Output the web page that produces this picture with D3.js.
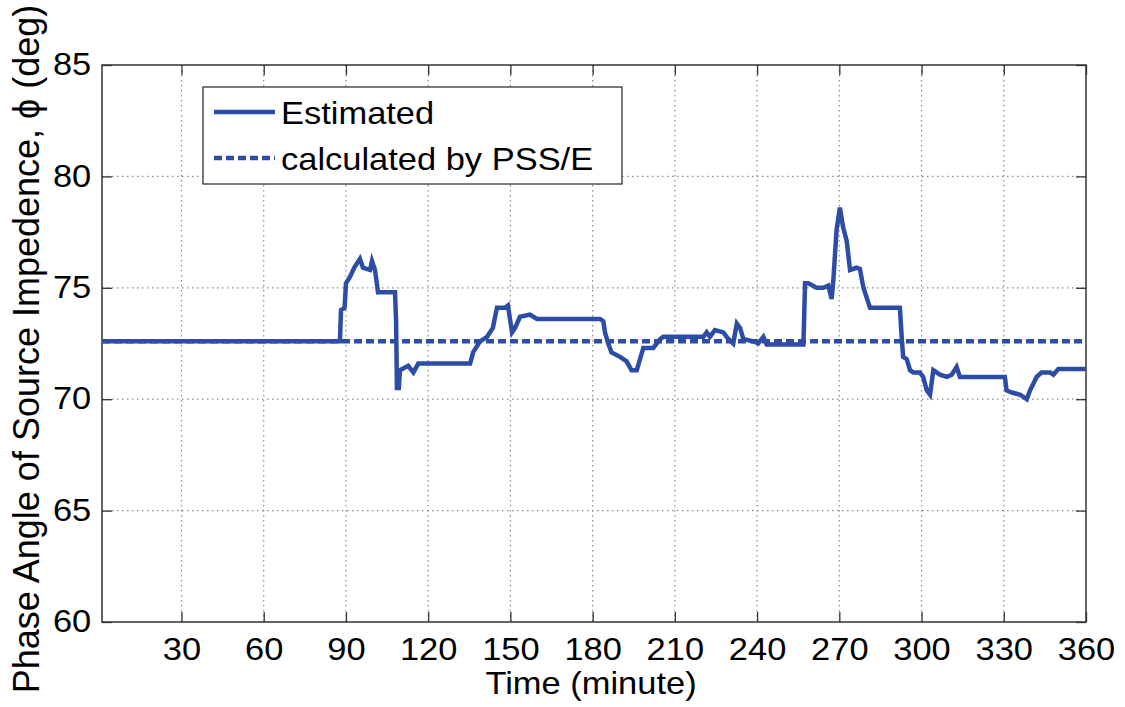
<!DOCTYPE html>
<html>
<head>
<meta charset="utf-8">
<script src="https://cdn.jsdelivr.net/npm/d3@7"></script>
<style>
  html, body { margin: 0; padding: 0; background: #fff; }
  svg { display: block; font-family: "Liberation Sans", Arial, sans-serif; }
</style>
</head>
<body>
<svg id="chart" width="1125" height="707"></svg>
<script>
// Time (minute) and estimated phase angle (deg)
const timeMin = [1, 87.8, 88.2, 89.5, 90.0, 91.5, 93.0, 95.1, 96.2, 98.8, 99.5, 100.6, 101.7, 107.9, 108.3, 108.6, 109.3,
  109.7, 112.7, 114.6, 116.4, 135.3, 136.4, 138.9, 141.5, 143.6, 145.1, 148.0, 149.1, 150.6, 151.7, 153.5, 157.1,
  159.7, 182.7, 183.9, 184.5, 185.7, 186.9, 190.0, 192.4, 194.2, 196.1, 197.3, 198.5, 202.1, 204.6, 205.8, 220.4,
  221.6, 222.8, 224.6, 227.7, 229.5, 231.3, 232.6, 233.8, 235.0, 238.6, 240.4, 242.3, 243.5, 256.9, 257.5, 258.7,
  261.7, 264.2, 266.0, 267.2, 267.8, 269.0, 270.2, 271.4, 272.7, 273.9, 276.3, 277.5, 278.8, 281.2, 292.1, 292.8,
  293.3, 294.6, 295.8, 297.0, 299.4, 300.6, 301.9, 303.1, 304.3, 305.5, 306.7, 309.2, 311.0, 312.8, 314.0, 330.4,
  331.0, 332.9, 336.0, 338.4, 339.6, 342.0, 343.8, 346.9, 348.1, 349.9, 360];
const estimated = [72.6, 72.6, 74.0, 74.1, 75.2, 75.5, 75.9, 76.3, 75.9, 75.8, 76.2, 75.8, 74.8, 74.8, 73.5, 70.5, 70.5,
  71.3, 71.5, 71.2, 71.6, 71.6, 72.1, 72.6, 72.8, 73.2, 74.1, 74.1, 74.2, 73.0, 73.2, 73.7, 73.8,
  73.6, 73.6, 73.5, 73.0, 72.5, 72.1, 71.9, 71.7, 71.3, 71.3, 71.8, 72.3, 72.3, 72.7, 72.8, 72.8,
  73.0, 72.8, 73.1, 73.0, 72.7, 72.5, 73.4, 73.2, 72.7, 72.6, 72.5, 72.8, 72.45, 72.45, 75.2, 75.2,
  75.0, 75.0, 75.1, 74.5, 75.3, 77.6, 78.6, 77.7, 77.1, 75.8, 75.9, 75.85, 75.0, 74.1, 74.1, 72.7,
  71.9, 71.8, 71.3, 71.2, 71.2, 71.0, 70.4, 70.2, 71.3, 71.2, 71.1, 71.0, 71.1, 71.45, 71.0, 71.0,
  70.4, 70.3, 70.2, 70.0, 70.4, 71.0, 71.2, 71.2, 71.1, 71.35, 71.35];

// Reference value computed by PSS/E (constant over the run)
const pssTime = [1, 360];
const pssValue = [72.6, 72.6];

const xTicks = [30, 60, 90, 120, 150, 180, 210, 240, 270, 300, 330, 360];
const yTicks = [60, 65, 70, 75, 80, 85];
const legendLabels = ["Estimated", "calculated by PSS/E"];

const lineColor = "#2d4ca6";
const fontSize = 30.5;
const widen = 1.13;           // horizontal text is set slightly wide
const plotL = 102, plotR = 1086, plotT = 65, plotB = 622;

const svg = d3.select("#chart");
const x = d3.scaleLinear().domain([1, 360]).range([plotL, plotR]);
const y = d3.scaleLinear().domain([60, 85]).range([plotB, plotT]);

// dotted grid
const grid = svg.append("g");
grid.selectAll("line.vx").data(xTicks.filter(d => d < 360)).enter().append("line")
  .attr("x1", d => x(d)).attr("x2", d => x(d)).attr("y1", plotT).attr("y2", plotB)
  .attr("stroke", "#8a8a8a").attr("stroke-width", 1.2).attr("stroke-dasharray", "1.5,3.5");
grid.selectAll("line.hy").data(yTicks.filter(d => d > 60 && d < 85)).enter().append("line")
  .attr("x1", plotL).attr("x2", plotR).attr("y1", d => y(d)).attr("y2", d => y(d))
  .attr("stroke", "#8a8a8a").attr("stroke-width", 1.2).attr("stroke-dasharray", "1.5,3.5");

// axes (ticks inward, box on all sides)
const axisStyle = g => {
  g.select(".domain").remove();
  g.selectAll(".tick line").attr("stroke", "#333").attr("stroke-width", 1.3);
  g.selectAll(".tick text").attr("fill", "#000").attr("font-size", fontSize)
    .attr("font-family", "'Liberation Sans', Arial, sans-serif")
    .attr("transform", `scale(${widen},1)`);
};
svg.append("g").attr("transform", `translate(0,${plotB})`)
  .call(d3.axisBottom(x).tickValues(xTicks).tickSizeInner(-10).tickSizeOuter(0).tickPadding(16))
  .call(axisStyle);
svg.append("g").attr("transform", `translate(${plotL},0)`)
  .call(d3.axisLeft(y).tickValues(yTicks).tickSizeInner(-10).tickSizeOuter(0).tickPadding(9.5))
  .call(axisStyle);
svg.append("g").attr("transform", `translate(0,${plotT})`)
  .call(d3.axisTop(x).tickValues(xTicks).tickSizeInner(-10).tickSizeOuter(0).tickFormat(""))
  .call(axisStyle);
svg.append("g").attr("transform", `translate(${plotR},0)`)
  .call(d3.axisRight(y).tickValues(yTicks).tickSizeInner(-10).tickSizeOuter(0).tickFormat(""))
  .call(axisStyle);
svg.append("rect").attr("x", plotL).attr("y", plotT).attr("width", plotR - plotL).attr("height", plotB - plotT)
  .attr("fill", "none").attr("stroke", "#333").attr("stroke-width", 1.5);

// series
const line = d3.line().x(d => x(d[0])).y(d => y(d[1]));
svg.append("path").datum(d3.zip(pssTime, pssValue)).attr("d", line)
  .attr("fill", "none").attr("stroke", lineColor).attr("stroke-width", 4.5).attr("stroke-dasharray", "8,4");
svg.append("path").datum(d3.zip(timeMin, estimated)).attr("d", line)
  .attr("fill", "none").attr("stroke", lineColor).attr("stroke-width", 4.5).attr("stroke-linejoin", "miter");

// axis titles
svg.append("text").attr("transform", `translate(${(plotL + plotR) / 2 - 3},694) scale(${widen},1)`)
  .attr("text-anchor", "middle").attr("font-size", fontSize).text("Time (minute)");
svg.append("text").attr("transform", `translate(39,349) rotate(-90)`).attr("text-anchor", "middle")
  .attr("font-size", 36).text("Phase Angle of Source Impedence, \u03D5 (deg)");

// legend
const lg = svg.append("g");
lg.append("rect").attr("x", 203).attr("y", 87).attr("width", 419).attr("height", 97)
  .attr("fill", "#fff").attr("stroke", "#333").attr("stroke-width", 1.3);
const rows = [112, 158];
legendLabels.forEach((lab, i) => {
  lg.append("line").attr("x1", 214).attr("x2", 275).attr("y1", rows[i]).attr("y2", rows[i])
    .attr("stroke", lineColor).attr("stroke-width", 4.5)
    .attr("stroke-dasharray", i === 1 ? "8,4" : null);
  lg.append("text").attr("transform", `translate(281,${rows[i] + 12}) scale(${widen},1)`)
    .attr("font-size", fontSize).text(lab);
});
</script>
</body>
</html>
